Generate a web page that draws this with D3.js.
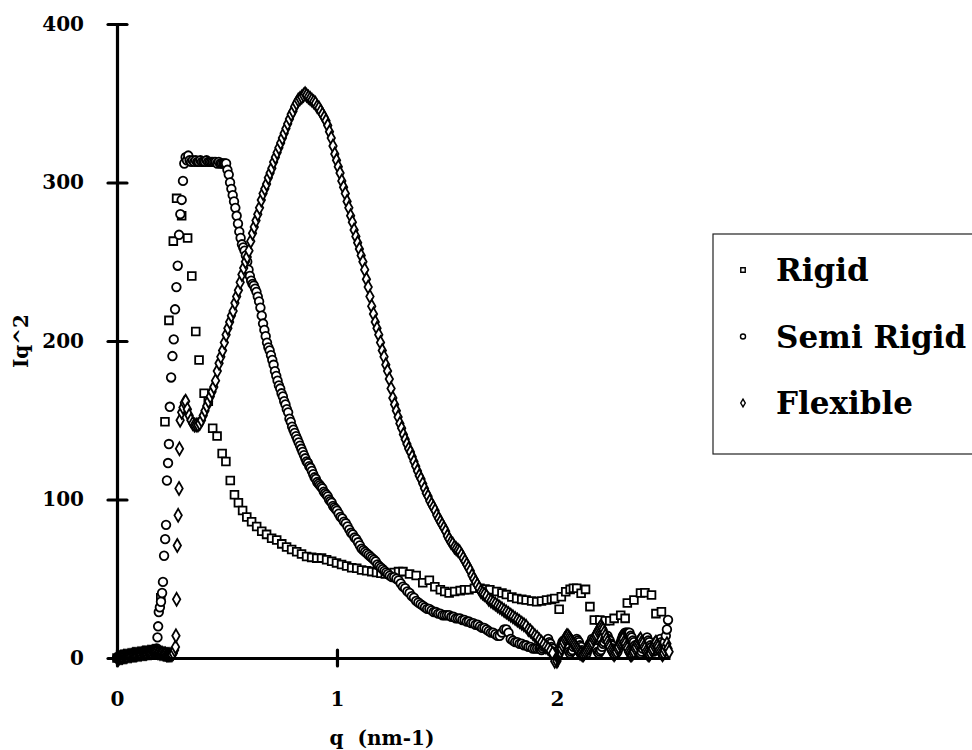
<!DOCTYPE html>
<html><head><meta charset="utf-8">
<script src="https://cdn.jsdelivr.net/npm/d3@7"></script>
<style>body{margin:0;background:#fff}svg{display:block}</style></head>
<body><svg id="c" width="972" height="750"></svg>
<script>
const seriesNames = ["Rigid", "Semi Rigid", "Flexible"];
const xTicks = [0, 1, 2];
const yTicks = [0, 100, 200, 300, 400];
const xTitle = "q  (nm-1)";
const yTitle = "Iq^2";

const rigid = [[0.00,0],[0.01,0.5],[0.02,0.5],[0.03,1],[0.04,1],[0.05,1],[0.06,1.5],[0.07,1.5],[0.08,2],[0.09,2],[0.10,2],[0.11,2.5],[0.12,2.5],[0.13,3],[0.14,3],[0.15,3],[0.16,3.5],[0.17,3.5],[0.18,4],[0.19,4],[0.199,38],[0.218,149],[0.236,213],[0.256,263],[0.271,290],[0.294,279],[0.321,265],[0.340,241],[0.358,206],[0.373,188],[0.396,167],[0.415,162],[0.435,145],[0.455,140],[0.478,129],[0.495,124],[0.515,112],[0.534,103],[0.552,98],[0.571,93],[0.590,89],[0.612,86],[0.635,83],[0.658,80],[0.680,78],[0.703,75.5],[0.726,74.4],[0.749,72],[0.771,70],[0.794,68.5],[0.817,67],[0.839,65.6],[0.862,64],[0.885,63.5],[0.908,63],[0.930,63],[0.953,62],[0.976,61],[0.998,60],[1.021,59],[1.044,58],[1.067,57],[1.090,56.6],[1.112,55.5],[1.135,55],[1.158,54.5],[1.180,54],[1.200,53.5],[1.220,53],[1.240,53],[1.260,54],[1.280,54.5],[1.300,54.5],[1.330,53],[1.360,52],[1.390,47.5],[1.420,49],[1.445,45],[1.470,43],[1.490,42],[1.510,41],[1.535,42],[1.560,42.5],[1.580,43],[1.600,43],[1.625,44],[1.650,44],[1.673,43.5],[1.695,43],[1.726,42],[1.750,41],[1.770,40],[1.795,38.5],[1.817,37.6],[1.840,37],[1.860,36.6],[1.885,36],[1.908,35.5],[1.930,36],[1.953,36.6],[1.975,37],[1.990,37.6],[2.010,30.7],[2.020,38.7],[2.040,41.8],[2.060,43.3],[2.075,44],[2.090,44],[2.110,40.8],[2.130,43.3],[2.150,32.4],[2.170,24],[2.195,24],[2.220,23.5],[2.240,23.5],[2.260,25],[2.290,27],[2.310,25],[2.320,34.7],[2.350,36.6],[2.380,41],[2.400,41.2],[2.430,39.7],[2.450,28],[2.475,29.2]];

const semiRigid = [[0.000,0],[0.005,0],[0.010,0.5],[0.015,0.5],[0.020,1],[0.025,1],[0.030,1],[0.035,1],[0.040,1.5],[0.045,1.5],[0.050,1.5],[0.055,2],[0.060,2],[0.065,2],[0.070,2],[0.075,2.5],[0.080,2.5],[0.085,2.5],[0.090,2.5],[0.095,3],[0.100,3],[0.105,3],[0.110,3],[0.115,3.5],[0.120,3.5],[0.125,3.5],[0.130,4],[0.135,4],[0.140,4],[0.145,4.5],[0.150,4.5],[0.155,5],[0.160,5],[0.165,5],[0.170,5.5],[0.175,4],[0.178,3],[0.181,6],[0.184,13],[0.187,20],[0.190,29],[0.195,32],[0.200,35.5],[0.205,41],[0.209,48],[0.214,64.5],[0.219,75],[0.223,84],[0.227,112],[0.232,123],[0.236,135],[0.240,158.5],[0.246,177],[0.252,190.5],[0.258,201],[0.264,220],[0.270,234],[0.276,247.5],[0.282,267],[0.288,280],[0.294,289],[0.300,301],[0.306,312],[0.312,316],[0.318,314],[0.324,317],[0.330,314],[0.337,313],[0.344,314],[0.351,313],[0.358,314],[0.365,313],[0.372,313],[0.379,314],[0.386,313],[0.393,313],[0.400,313],[0.407,314],[0.414,313],[0.421,313],[0.428,313],[0.435,313],[0.442,313],[0.449,313],[0.456,312],[0.463,313],[0.470,312],[0.477,312],[0.484,312],[0.490,312],[0.496,312],[0.502,308],[0.508,305],[0.514,300],[0.520,296],[0.526,292],[0.532,288],[0.538,284],[0.544,279],[0.550,274],[0.556,269],[0.562,265],[0.568,261],[0.574,259],[0.580,257],[0.586,254],[0.592,250],[0.598,245],[0.604,241],[0.610,238],[0.616,236],[0.622,235],[0.628,233],[0.634,231],[0.640,228],[0.646,225],[0.652,221],[0.658,216],[0.664,211],[0.670,207],[0.676,203],[0.682,199],[0.688,196],[0.694,194],[0.700,191],[0.706,188],[0.712,185],[0.718,181],[0.724,178],[0.730,175],[0.736,172],[0.742,170],[0.748,167],[0.754,165],[0.760,162],[0.766,160],[0.772,157],[0.778,155],[0.784,151],[0.790,149],[0.796,146],[0.802,144],[0.808,142],[0.814,140],[0.820,138],[0.826,136],[0.832,134],[0.838,132],[0.844,130],[0.850,128],[0.856,126],[0.862,124],[0.868,123],[0.874,121],[0.880,120],[0.886,118],[0.892,116],[0.898,114],[0.904,113],[0.910,111],[0.916,110],[0.922,109],[0.928,108],[0.934,107],[0.940,105],[0.946,104],[0.952,103],[0.958,102],[0.964,100],[0.970,99],[0.976,98],[0.982,96],[0.988,95],[0.994,94],[1.000,93],[1.008,91],[1.016,89],[1.024,88],[1.032,86],[1.040,85],[1.048,83],[1.056,81],[1.064,79],[1.072,78],[1.080,76],[1.088,75],[1.096,73],[1.104,71],[1.112,69],[1.120,68],[1.128,67],[1.136,66],[1.144,65],[1.152,64],[1.160,63],[1.168,62],[1.176,61],[1.184,59],[1.192,58],[1.200,57],[1.208,56],[1.216,55],[1.224,54],[1.232,53],[1.240,52],[1.250,51],[1.260,51],[1.270,50],[1.280,49],[1.290,47],[1.300,45],[1.310,44],[1.320,42],[1.330,41],[1.340,39],[1.350,38],[1.360,36],[1.370,35],[1.380,34],[1.390,33],[1.400,32],[1.410,31],[1.420,31],[1.430,30],[1.440,29],[1.450,29],[1.460,28],[1.470,28],[1.480,27],[1.490,27],[1.500,27],[1.510,27],[1.520,26],[1.530,26],[1.540,25],[1.550,25],[1.560,25],[1.570,24],[1.580,24],[1.590,23],[1.600,23],[1.610,22],[1.620,22],[1.630,21],[1.640,21],[1.650,20],[1.660,19],[1.670,19],[1.680,18],[1.690,17],[1.700,16],[1.710,16],[1.720,15],[1.730,14],[1.740,14],[1.750,16],[1.760,18],[1.770,18],[1.780,16],[1.790,12],[1.800,11],[1.810,10],[1.820,10],[1.830,9],[1.840,9],[1.850,8],[1.860,8],[1.870,7],[1.880,7],[1.890,6],[1.900,6],[1.910,6],[1.920,6],[1.925,6],[1.930,5],[1.935,6],[1.940,7],[1.945,9],[1.950,10],[1.955,11],[1.960,12],[1.965,10],[1.970,9],[1.975,7],[1.980,6],[1.985,4],[1.990,3],[1.995,2],[2.000,2],[2.005,3],[2.010,5],[2.015,6],[2.020,8],[2.025,10],[2.030,11],[2.035,10],[2.040,9],[2.045,7],[2.050,6],[2.055,4],[2.060,3],[2.065,4],[2.070,5],[2.075,7],[2.080,9],[2.085,10],[2.090,12],[2.095,11],[2.100,10],[2.105,8],[2.110,7],[2.115,5],[2.120,4],[2.125,3],[2.130,2],[2.135,3],[2.140,5],[2.145,7],[2.150,9],[2.155,10],[2.160,12],[2.165,10],[2.170,9],[2.175,7],[2.180,6],[2.185,4],[2.190,3],[2.195,4],[2.200,5],[2.205,7],[2.210,9],[2.215,10],[2.220,12],[2.225,13],[2.230,14],[2.235,12],[2.240,11],[2.245,9],[2.250,8],[2.255,6],[2.260,5],[2.265,4],[2.270,3],[2.275,4],[2.280,6],[2.285,8],[2.290,10],[2.295,12],[2.300,14],[2.305,15],[2.310,16],[2.315,16],[2.320,16],[2.325,16],[2.330,16],[2.335,14],[2.340,13],[2.345,11],[2.350,10],[2.355,8],[2.360,7],[2.365,5],[2.370,4],[2.375,3],[2.380,3],[2.385,4],[2.390,6],[2.395,8],[2.400,10],[2.405,11],[2.410,13],[2.415,11],[2.420,10],[2.425,8],[2.430,7],[2.435,5],[2.440,4],[2.445,5],[2.450,6],[2.455,8],[2.460,9],[2.465,11],[2.470,12],[2.475,10],[2.480,8],[2.485,9],[2.490,10],[2.495,14],[2.500,18],[2.505,24]];

const flexible = [[0.000,0],[0.005,0],[0.010,0],[0.015,0.5],[0.020,0.5],[0.025,0.5],[0.030,1],[0.035,1],[0.040,1],[0.045,1],[0.050,1.5],[0.055,1.5],[0.060,1.5],[0.065,1.5],[0.070,2],[0.075,2],[0.080,2],[0.085,2],[0.090,2],[0.095,2.5],[0.100,2.5],[0.105,2.5],[0.110,2.5],[0.115,3],[0.120,3],[0.125,3],[0.130,3],[0.135,3],[0.140,3.5],[0.145,3.5],[0.150,3.5],[0.155,3.5],[0.160,4],[0.165,4],[0.170,4],[0.175,4],[0.180,4],[0.185,3.5],[0.190,3.5],[0.195,3],[0.200,3],[0.205,3],[0.210,2.5],[0.215,2.5],[0.220,2.5],[0.225,2],[0.230,2],[0.235,2],[0.240,2],[0.245,2],[0.250,2],[0.256,3],[0.262,5],[0.266,7],[0.268,14],[0.271,37],[0.274,71],[0.278,90],[0.282,107],[0.284,132],[0.287,150],[0.294,155],[0.300,158],[0.306,161],[0.312,162],[0.320,157],[0.328,153],[0.336,150],[0.344,148],[0.352,147],[0.360,147],[0.368,147],[0.376,148],[0.384,150],[0.392,153],[0.400,156],[0.408,159],[0.416,162],[0.424,165],[0.432,168],[0.440,171],[0.448,175],[0.456,181],[0.464,186],[0.472,190],[0.480,194],[0.488,199],[0.496,204],[0.504,208],[0.512,212],[0.520,216],[0.528,219],[0.536,224],[0.544,228],[0.552,232],[0.560,237],[0.568,242],[0.576,246],[0.584,250],[0.592,253],[0.600,257],[0.608,263],[0.616,268],[0.624,272],[0.632,276],[0.640,280],[0.648,284],[0.656,289],[0.664,293],[0.672,296],[0.680,299],[0.688,303],[0.696,306],[0.704,309],[0.712,313],[0.720,316],[0.728,319],[0.736,322],[0.744,325],[0.752,328],[0.760,331],[0.768,334],[0.776,337],[0.784,340],[0.792,343],[0.800,345],[0.808,348],[0.816,350],[0.824,352],[0.832,353],[0.840,354],[0.848,355],[0.855,356],[0.862,355],[0.870,354],[0.878,353],[0.886,352],[0.894,351],[0.902,350],[0.910,348],[0.918,347],[0.926,345],[0.934,343],[0.942,341],[0.950,339],[0.958,336],[0.966,332],[0.974,328],[0.982,323],[0.990,318],[0.998,314],[1.006,310],[1.014,306],[1.022,301],[1.030,297],[1.038,293],[1.046,288],[1.054,284],[1.062,279],[1.070,275],[1.078,270],[1.086,266],[1.094,262],[1.102,258],[1.110,254],[1.118,250],[1.126,245],[1.134,239],[1.142,234],[1.150,228],[1.158,222],[1.166,217],[1.174,212],[1.182,208],[1.190,204],[1.198,199],[1.206,194],[1.214,190],[1.222,185],[1.230,181],[1.238,176],[1.246,170],[1.254,164],[1.262,160],[1.270,156],[1.278,152],[1.286,148],[1.294,145],[1.302,141],[1.310,138],[1.318,135],[1.326,132],[1.334,130],[1.342,127],[1.350,124],[1.358,121],[1.366,118],[1.374,115],[1.382,113],[1.390,110],[1.398,107],[1.406,104],[1.414,102],[1.422,99],[1.430,97],[1.438,95],[1.446,93],[1.454,90],[1.462,88],[1.470,86],[1.478,84],[1.486,82],[1.494,80],[1.502,77],[1.510,75],[1.518,73],[1.526,72],[1.534,70],[1.542,69],[1.550,68],[1.558,67],[1.566,65],[1.574,63],[1.582,61],[1.590,59],[1.598,57],[1.606,55],[1.614,52],[1.622,50],[1.630,48],[1.638,46],[1.646,44],[1.654,42],[1.662,41],[1.670,40],[1.680,39],[1.690,37],[1.700,36],[1.710,35],[1.720,34],[1.730,33],[1.740,32],[1.750,31],[1.760,30],[1.770,29],[1.780,28],[1.790,27],[1.800,26],[1.810,25],[1.820,24],[1.830,23],[1.840,22],[1.850,21],[1.860,20],[1.870,18],[1.880,17],[1.890,15.6],[1.900,14],[1.910,13],[1.920,11.4],[1.930,10],[1.940,8.5],[1.950,7],[1.960,6],[1.970,4.5],[1.980,3],[1.990,-2],[2.000,-2],[2.005,0],[2.010,2],[2.015,4],[2.020,6],[2.025,8],[2.030,10],[2.035,12],[2.040,13],[2.045,14],[2.050,14],[2.055,13],[2.060,12],[2.065,11],[2.070,10],[2.075,9],[2.080,8],[2.085,7],[2.090,6],[2.095,5],[2.100,4],[2.105,3],[2.110,3],[2.115,2],[2.120,2],[2.125,3],[2.130,4],[2.135,5],[2.140,6],[2.145,7],[2.150,8],[2.155,9],[2.160,10],[2.165,12],[2.170,13],[2.175,14],[2.180,15],[2.185,17],[2.190,18],[2.195,19],[2.200,20],[2.205,19],[2.210,18],[2.215,16],[2.220,14],[2.225,12],[2.230,10],[2.235,8],[2.240,7],[2.245,5],[2.250,4],[2.255,3],[2.260,2],[2.265,3],[2.270,4],[2.275,6],[2.280,7],[2.285,9],[2.290,10],[2.295,11],[2.300,12],[2.305,10],[2.310,9],[2.315,7],[2.320,6],[2.325,4],[2.330,3],[2.335,2],[2.340,2],[2.345,3],[2.350,4],[2.355,6],[2.360,7],[2.365,9],[2.370,10],[2.375,11],[2.380,12],[2.385,10],[2.390,9],[2.395,7],[2.400,6],[2.405,4],[2.410,3],[2.415,2],[2.420,2],[2.425,3],[2.430,5],[2.435,6],[2.440,8],[2.445,9],[2.450,10],[2.455,8],[2.460,7],[2.465,5],[2.470,4],[2.475,3],[2.480,2],[2.485,3],[2.490,5],[2.495,7],[2.500,9],[2.505,6],[2.510,4]];

const svg = d3.select("#c");
const font = "'DejaVu Serif', serif";
const x = d3.scaleLinear().domain([0, 2.514]).range([117, 670]);
const y = d3.scaleLinear().domain([0, 400]).range([658, 24]);

// plot markers
const g = svg.append("g");
const sym = {
  "Rigid": d3.symbol().type(d3.symbolSquare).size(60),
  "Semi Rigid": d3.symbol().type(d3.symbolCircle).size(58),
  "Flexible": d3.symbol().type(d3.symbolDiamond).size(48)
};
const all = [[rigid, "Rigid"], [semiRigid, "Semi Rigid"], [flexible, "Flexible"]];
all.forEach(([data, name]) => {
  g.append("g").selectAll("path").data(data).join("path")
    .attr("d", sym[name]())
    .attr("transform", d => `translate(${x(d[0])},${y(d[1])})`)
    .attr("fill", "#fff").attr("stroke", "#000").attr("stroke-width", 1.8);
});

// axes
const yAxis = svg.append("g").attr("transform", `translate(${x(0)},0)`)
  .call(d3.axisLeft(y).tickValues(yTicks).tickSize(9).tickSizeOuter(0).tickFormat(d3.format("d")).tickPadding(24));
yAxis.select(".domain").attr("stroke-width", 3.2).attr("stroke", "#000");
yAxis.selectAll(".tick line").attr("x1", 10).attr("x2", -9).attr("stroke-width", 3.2).attr("stroke-linecap", "round");
yAxis.selectAll(".tick text").attr("font-family", font).attr("font-weight", "bold").attr("font-size", 20).attr("fill", "#000");

const xAxis = svg.append("g").attr("transform", `translate(0,${y(0)})`)
  .call(d3.axisBottom(x).tickValues(xTicks).tickSize(8).tickSizeOuter(0).tickFormat(d3.format("d")).tickPadding(26));
xAxis.select(".domain").attr("stroke-width", 3.2).attr("stroke", "#000");
xAxis.selectAll(".tick line").attr("y1", -8).attr("y2", 8).attr("stroke-width", 3.2).attr("stroke-linecap", "round");
xAxis.selectAll(".tick text").attr("font-family", font).attr("font-weight", "bold").attr("font-size", 20).attr("fill", "#000");

svg.append("text").attr("x", 382).attr("y", 745).attr("text-anchor", "middle")
  .attr("font-family", font).attr("font-weight", "bold").attr("font-size", 20)
  .attr("xml:space", "preserve").style("white-space", "pre").text(xTitle);
svg.append("text").attr("transform", "translate(28,341) rotate(-90)").attr("text-anchor", "middle")
  .attr("font-family", font).attr("font-weight", "bold").attr("font-size", 20).text(yTitle);

// legend
const lg = svg.append("g");
lg.append("rect").attr("x", 713).attr("y", 234).attr("width", 300).attr("height", 220)
  .attr("fill", "#fff").attr("stroke", "#222").attr("stroke-width", 1.2);
const legSym = {
  "Rigid": d3.symbol().type(d3.symbolSquare).size(20),
  "Semi Rigid": d3.symbol().type(d3.symbolCircle).size(20),
  "Flexible": d3.symbol().type(d3.symbolDiamond).size(18)
};
seriesNames.forEach((name, i) => {
  const yy = 270 + i * 66.5;
  lg.append("path").attr("d", legSym[name]()).attr("transform", `translate(743,${yy})`)
    .attr("fill", "#fff").attr("stroke", "#000").attr("stroke-width", 1.4);
  lg.append("text").attr("x", 776).attr("y", yy + 11).attr("font-family", font)
    .attr("font-weight", "bold").attr("font-size", 31).attr("fill", "#000").text(name);
});
</script></body></html>
